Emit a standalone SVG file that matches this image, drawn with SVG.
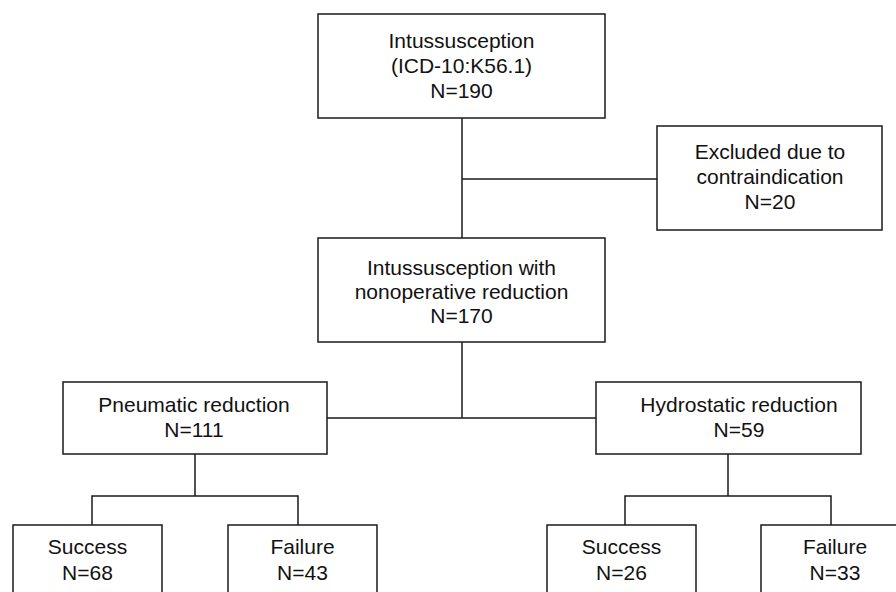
<svg xmlns="http://www.w3.org/2000/svg" width="896" height="592" viewBox="0 0 896 592">
<style>
.box{fill:#fff;stroke:#1a1a1a;stroke-width:1.5}
.ln{fill:none;stroke:#1a1a1a;stroke-width:1.5}
text{font-family:"Liberation Sans",Arial,sans-serif;font-size:21px;fill:#111;text-anchor:middle}
</style>
<rect width="896" height="592" fill="#fff"/>
<g id="connectors">
<path class="ln" d="M462,118V238M462,179H657M462,342V418M327,418H596M195,454V496M92,525V496H298V525M728,454V496M625,525V496H831V525"/>
</g>
<g id="n_top">
<rect class="box" x="318" y="14" width="287" height="104"/>
<text x="461.5" y="47.5">Intussusception</text>
<text x="461.5" y="72.5">(ICD-10:K56.1)</text>
<text x="461.5" y="97.5">N=190</text>
</g>
<g id="n_excluded">
<rect class="box" x="657" y="126" width="225" height="104"/>
<text x="770" y="159">Excluded due to</text>
<text x="770" y="184">contraindication</text>
<text x="770" y="209">N=20</text>
</g>
<g id="n_nonop">
<rect class="box" x="318" y="238" width="287" height="104"/>
<text x="461.5" y="274.5">Intussusception with</text>
<text x="461.5" y="298.5">nonoperative reduction</text>
<text x="461.5" y="322.5">N=170</text>
</g>
<g id="n_pneumatic">
<rect class="box" x="63" y="382" width="264" height="72"/>
<text x="194" y="412">Pneumatic reduction</text>
<text x="194" y="437">N=111</text>
</g>
<g id="n_hydrostatic">
<rect class="box" x="596" y="382" width="265" height="72"/>
<text x="739" y="412">Hydrostatic reduction</text>
<text x="739" y="437">N=59</text>
</g>
<g id="n_p_success">
<rect class="box" x="13" y="525" width="149" height="80"/>
<text x="87.5" y="554">Success</text>
<text x="87.5" y="580">N=68</text>
</g>
<g id="n_p_failure">
<rect class="box" x="228" y="525" width="149" height="80"/>
<text x="302.5" y="554">Failure</text>
<text x="302.5" y="580">N=43</text>
</g>
<g id="n_h_success">
<rect class="box" x="547" y="525" width="149" height="80"/>
<text x="621.5" y="554">Success</text>
<text x="621.5" y="580">N=26</text>
</g>
<g id="n_h_failure">
<rect class="box" x="761" y="525" width="149" height="80"/>
<text x="835" y="554">Failure</text>
<text x="835" y="580">N=33</text>
</g>
</svg>
